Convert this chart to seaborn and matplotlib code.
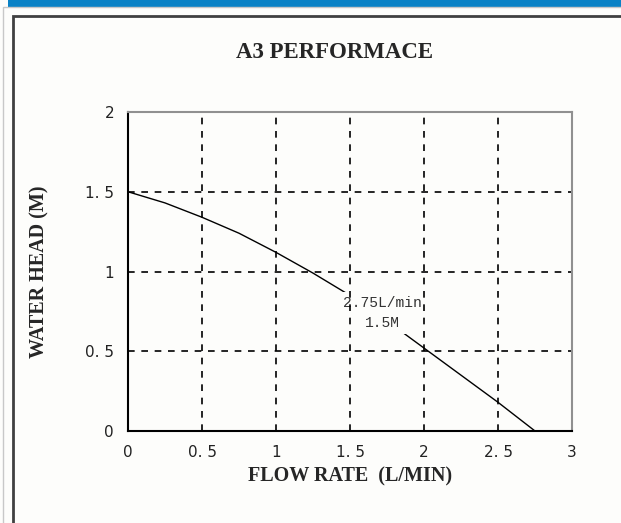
import matplotlib
matplotlib.use("Agg")
import matplotlib.pyplot as plt
import seaborn as sns
import pandas as pd
from matplotlib.patches import Rectangle

# pump curve
flow_rate = [0, 0.25, 0.5, 0.75, 1.0, 1.25, 1.5, 1.75, 2.0, 2.25, 2.5, 2.75]
water_head = [1.5, 1.43, 1.34, 1.24, 1.12, 0.99, 0.85, 0.69, 0.52, 0.35, 0.18, 0.0]
x_ticks = [0, 0.5, 1, 1.5, 2, 2.5, 3]
y_ticks = [0, 0.5, 1, 1.5, 2]

sns.set_style("white")
plt.rcParams['font.family'] = ['DejaVu Sans']

df = pd.DataFrame({'flow': flow_rate, 'head': water_head})

fig = plt.figure(figsize=(6.21, 5.23), dpi=100)
fig.patch.set_facecolor('#fdfdfb')

# window frame decorations
fig.add_artist(Rectangle((8 / 621, 1 - 7 / 523), 1, 7 / 523, transform=fig.transFigure,
                         facecolor='#0a82c6', edgecolor='none'))
fig.add_artist(Rectangle((3 / 621, -0.1), 1, 1 - 7 / 523 + 0.1, transform=fig.transFigure,
                         facecolor='none', edgecolor='#c8c8c8', lw=1))
fig.add_artist(Rectangle((12.5 / 621, -0.1), 1, 1 - 16 / 523 + 0.1, transform=fig.transFigure,
                         facecolor='none', edgecolor='#404040', lw=2))

ax = fig.add_axes([128 / 621, 1 - 431 / 523, 444 / 621, 319 / 523])
ax.set_facecolor('#fdfdfb')
ax.set_axisbelow(False)  # grid drawn over the label box

sns.lineplot(data=df, x='flow', y='head', ax=ax, color='black', lw=1.0, zorder=1)

ax.set_xlim(0, 3)
ax.set_ylim(0, 2)
ax.set_xticks(x_ticks)
ax.set_yticks(y_ticks)
ax.set_xticklabels(['0', '0. 5', '1', '1. 5', '2', '2. 5', '3'])
ax.set_yticklabels(['0', '0. 5', '1', '1. 5', '2'])
ax.set_xticks([0.25, 0.75, 1.25, 1.75, 2.25, 2.75], minor=True)
ax.tick_params(axis='both', which='both', direction='in', labelsize=11,
               colors='black', length=4, width=1, pad=10)
ax.tick_params(axis='both', labelcolor='#222222')

ax.grid(True, which='major', color='black', linestyle=(0, (4, 4)), lw=1.2)
for s in ['left', 'bottom']:
    ax.spines[s].set_color('black')
    ax.spines[s].set_linewidth(1.5)
for s in ['top', 'right']:
    ax.spines[s].set_color('#909090')
    ax.spines[s].set_linewidth(1.5)
for s in ax.spines.values():
    s.set_zorder(4)

ax.text(1.72, 0.74, '2.75L/min\n1.5M', family='Liberation Mono', fontsize=10.5,
        ha='center', va='center', color='#333333', zorder=2, linespacing=1.5,
        bbox=dict(facecolor='#fdfdfb', edgecolor='none', pad=3))

ax.set_xlabel('FLOW RATE  (L/MIN)', family='Liberation Serif', fontweight='bold',
              fontsize=14.5, labelpad=5)
ax.set_ylabel('WATER HEAD (M)', family='Liberation Serif', fontweight='bold',
              fontsize=14.5, labelpad=26)
fig.text(335 / 621, 1 - 52 / 523, 'A3 PERFORMACE', family='Liberation Serif',
         fontweight='bold', fontsize=16.5, ha='center', va='center')

fig.savefig('out.png', dpi=100, facecolor=fig.get_facecolor())
